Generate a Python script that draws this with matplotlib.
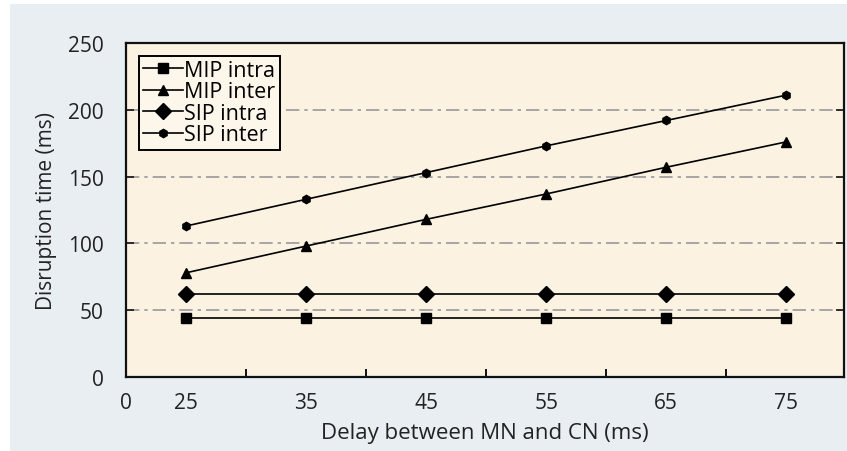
import matplotlib
matplotlib.use('Agg')
from matplotlib import pyplot as plt
from matplotlib.patches import Rectangle
import numpy as np

# data
delays = [25, 35, 45, 55, 65, 75]
mip_intra = [44, 44, 44, 44, 44, 44]
mip_inter = [78, 98, 118, 137, 157, 176]
sip_intra = [62, 62, 62, 62, 62, 62]
sip_inter = [113, 133, 153, 173, 192, 211]
y_ticks = [0, 50, 100, 150, 200, 250]

plt.rcParams['font.family'] = ['Open Sans', 'DejaVu Sans']

fig = plt.figure(figsize=(8.47, 4.52), dpi=100)
fig.patch.set_facecolor('white')
# grey background panel, white strip left and top
fig.add_artist(Rectangle((10 / 847, 0), 1, (452 - 5) / 452, transform=fig.transFigure,
                         facecolor='#e9eef2', edgecolor='none', zorder=-10))

ax = fig.add_axes([126 / 847, (452 - 378) / 452, (844 - 126) / 847, (378 - 44) / 452])
ax.set_facecolor('#fbf2e1')

x = np.arange(len(delays))
ax.plot(x, mip_intra, color='black', lw=1.2, marker='s', ms=7, label='MIP intra')
ax.plot(x, mip_inter, color='black', lw=1.2, marker='^', ms=7, label='MIP inter')
ax.plot(x, sip_intra, color='black', lw=1.2, marker='D', ms=8, label='SIP intra')
ax.plot(x, sip_inter, color='black', lw=1.2, marker='h', ms=6, label='SIP inter')

ax.set_xlim(-0.5, 5.48)
ax.set_ylim(0, 250)

ax.set_xticks([-0.5] + list(x))
ax.set_xticklabels(['0'] + [str(d) for d in delays])
ax.set_xticks(x[:-1] + 0.5, minor=True)
ax.tick_params(axis='x', which='major', length=0, pad=11, labelsize=15, colors='#222222')
ax.tick_params(axis='x', which='minor', direction='in', length=6, width=1.3)

ax.set_yticks(y_ticks)
ax.tick_params(axis='y', direction='in', length=6, width=1.3, left=True, right=True,
               pad=16, labelsize=15, colors='#222222')

for v in y_ticks[1:-1]:
    ax.axhline(v, color='#999999', lw=1.2, ls=(0, (8, 3, 2, 3)), zorder=0.5)

for s in ax.spines.values():
    s.set_linewidth(1.6)
    s.set_color('#111111')

ax.set_xlabel('Delay between MN and CN (ms)', fontsize=16, color='#222222', labelpad=6)
ax.set_ylabel('Disruption time (ms)', fontsize=15, color='#222222', labelpad=8)

leg = ax.legend(loc='upper left', bbox_to_anchor=(0.012, 0.975), fontsize=15.5, frameon=True,
                fancybox=False, edgecolor='black', facecolor='#fdf6ea', framealpha=1,
                handlelength=1.85, handletextpad=0.05, labelspacing=0.02,
                borderpad=0.2, borderaxespad=0.2)
leg.get_frame().set_linewidth(1.4)

fig.savefig('out.png', dpi=100)
